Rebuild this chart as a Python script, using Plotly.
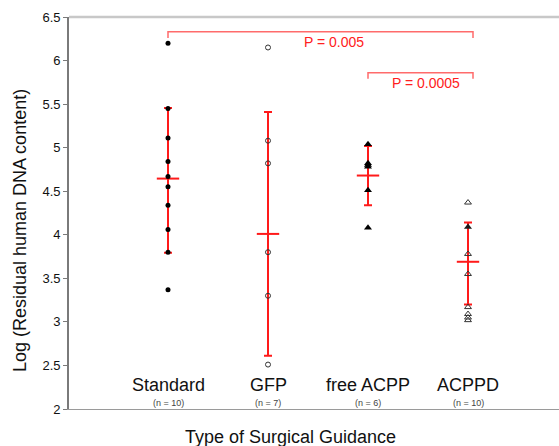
import plotly.graph_objects as go

# ---------------- data ----------------
categories = ["Standard", "GFP", "free ACPP", "ACPPD"]
n_labels = ["(n = 10)", "(n = 7)", "(n = 6)", "(n = 10)"]

standard_vals = [6.20, 5.45, 5.11, 4.84, 4.67, 4.55, 4.34, 4.06, 3.80, 3.37]
gfp_vals = [6.15, 5.08, 4.82, 3.80, 3.30, 2.51]
free_acpp_vals = [5.04, 4.82, 4.80, 4.78, 4.51, 4.08]
acppd_open_vals = [4.37, 3.78, 3.55, 3.17, 3.09, 3.05, 3.02]
acppd_filled_vals = [4.09]

means = [4.645, 4.01, 4.68, 3.69]
err_plus = [0.81, 1.40, 0.34, 0.45]
err_minus = [0.85, 1.40, 0.34, 0.49]

# significance brackets: (from category index, to category index, y level, label)
bracket_from = [1, 3]
bracket_to = [4, 4]
bracket_y = [6.33, 5.86]
bracket_labels = ["P = 0.005", "P = 0.0005"]
label_x = [2.655, 3.58]
label_y = [6.21, 5.74]

y_ticks = [2, 2.5, 3, 3.5, 4, 4.5, 5, 5.5, 6, 6.5]

# ---------------- figure ----------------
fig = go.Figure()

def xs(idx, vals):
    return [idx] * len(vals)

# mean and error bars (drawn first, so data points sit on top)
fig.add_trace(go.Scatter(
    x=[1, 2, 3, 4], y=means, mode="markers",
    marker=dict(symbol="line-ew-open", size=16, color="#ff1a1a", line=dict(width=2, color="#ff1a1a")),
    error_y=dict(type="data", symmetric=False, array=err_plus, arrayminus=err_minus,
                 color="#ff1a1a", thickness=2, width=4),
    showlegend=False))

fig.add_trace(go.Scatter(
    x=xs(1, standard_vals), y=standard_vals, mode="markers",
    marker=dict(symbol="circle", size=5, color="black"), showlegend=False))
fig.add_trace(go.Scatter(
    x=xs(2, gfp_vals), y=gfp_vals, mode="markers",
    marker=dict(symbol="circle-open", size=5, color="#333333", line=dict(width=1)),
    showlegend=False))
fig.add_trace(go.Scatter(
    x=xs(3, free_acpp_vals), y=free_acpp_vals, mode="markers",
    marker=dict(symbol="triangle-up", size=7, color="black"), showlegend=False))
fig.add_trace(go.Scatter(
    x=xs(4, acppd_open_vals), y=acppd_open_vals, mode="markers",
    marker=dict(symbol="triangle-up-open", size=6, color="#333333", line=dict(width=1)),
    showlegend=False))
fig.add_trace(go.Scatter(
    x=xs(4, acppd_filled_vals), y=acppd_filled_vals, mode="markers",
    marker=dict(symbol="triangle-up", size=7, color="#1a1a1a"), showlegend=False))

shapes = []
# top frame line
shapes.append(dict(type="line", xref="paper", yref="paper", x0=0, x1=1, y0=1, y1=1,
                   line=dict(color="#c8c8c8", width=2.5)))
# brackets
for f, t, yb in zip(bracket_from, bracket_to, bracket_y):
    x0 = f
    x1 = t + 0.05
    shapes.append(dict(type="path", xref="x", yref="y",
                       path=f"M {x0},{yb - 0.07} L {x0},{yb} L {x1},{yb} L {x1},{yb - 0.07}",
                       line=dict(color="#ff6b6b", width=1.5)))

annotations = []
for i, (c, n) in enumerate(zip(categories, n_labels)):
    annotations.append(dict(x=i + 1, y=2.27, xref="x", yref="y", text=c, showarrow=False,
                            font=dict(size=18, color="#111111", family="Liberation Sans, Arial"),
                            yanchor="middle"))
    annotations.append(dict(x=i + 1, y=2.065, xref="x", yref="y", text=n, showarrow=False,
                            font=dict(size=9, color="#444444", family="Liberation Sans, Arial"),
                            yanchor="middle"))
for lx, ly, lt in zip(label_x, label_y, bracket_labels):
    annotations.append(dict(x=lx, y=ly, xref="x", yref="y", text=lt, showarrow=False,
                            font=dict(size=14, color="#ff2020", family="Liberation Sans, Arial"),
                            yanchor="middle"))
# axis titles
annotations.append(dict(x=290, y=437, xref="paper", yref="paper", text="Type of Surgical Guidance",
                        showarrow=False, font=dict(size=18, color="#111111", family="Liberation Sans, Arial")))
annotations.append(dict(x=20, y=231, xref="paper", yref="paper", text="Log (Residual human DNA content)",
                        showarrow=False, textangle=-90,
                        font=dict(size=18, color="#111111", family="Liberation Sans, Arial")))

W, H = 559, 446
ML, MR, MT, MB = 69, 0, 17, 37
# convert pixel-based title positions to paper coords
for a in annotations[-2:]:
    a["x"] = (a["x"] - ML) / (W - ML - MR)
    a["y"] = (H - MB - a["y"]) / (H - MT - MB)
    a["xanchor"] = "center"
    a["yanchor"] = "middle"

fig.update_layout(
    width=W, height=H,
    margin=dict(l=ML, r=MR, t=MT, b=MB),
    paper_bgcolor="white", plot_bgcolor="white",
    shapes=shapes, annotations=annotations,
    font=dict(family="Liberation Sans, Arial", color="#111111"),
    xaxis=dict(range=[0.01, 4.91], showgrid=False, zeroline=False, showticklabels=False,
               ticks="", showline=True, linecolor="#9a9a9a", linewidth=1.2),
    yaxis=dict(range=[2, 6.5], tickvals=y_ticks, ticktext=[f"{v:g}" for v in y_ticks],
               showgrid=False, zeroline=False, showline=True, linecolor="#7a7a7a",
               linewidth=1.8, ticks="outside", ticklen=4, tickcolor="#7a7a7a", tickwidth=1.2,
               tickfont=dict(size=13, color="#111111")),
)

fig.write_html("out.html", config={"displayModeBar": False},
               post_script="document.body.style.margin='0px';document.body.style.overflow='hidden';")
